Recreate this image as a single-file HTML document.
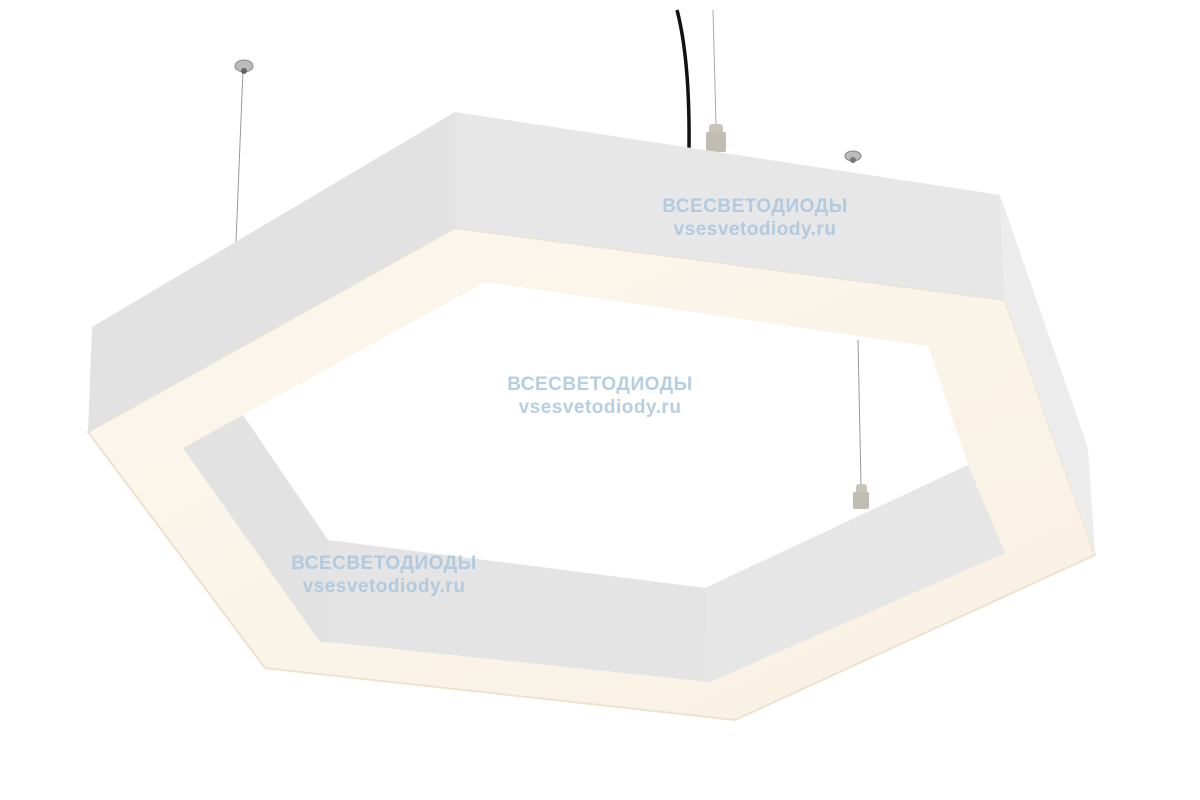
<!DOCTYPE html>
<html><head><meta charset="utf-8"><style>
html,body{margin:0;padding:0;background:#fff;}
svg{display:block}
.wm{font-family:"Liberation Sans",sans-serif;font-weight:bold;font-size:19px;fill:#a9c6de;opacity:.85;letter-spacing:0.5px}
</style></head><body>
<svg width="1200" height="800" viewBox="0 0 1200 800">
<defs>
<linearGradient id="dif" x1="0" y1="0" x2="1" y2="1">
<stop offset="0" stop-color="#fcf7ee"/><stop offset="1" stop-color="#f8f0e2"/>
</linearGradient>
</defs>
<!-- cables -->
<line x1="243" y1="70" x2="236" y2="242" stroke="#999" stroke-width="1"/>
<ellipse cx="244" cy="66" rx="9" ry="6" fill="#bbb" stroke="#888" stroke-width="1"/>
<circle cx="244" cy="71" r="3" fill="#666"/>
<path d="M677 10 Q690 60 689 148" stroke="#111" stroke-width="3.5" fill="none"/>
<line x1="713" y1="10" x2="716" y2="125" stroke="#aaa" stroke-width="1"/>
<rect x="709" y="124" width="14" height="10" rx="3" fill="#c9c3b8"/>
<rect x="706" y="132" width="20" height="20" rx="2" fill="#c2bdb3"/>
<ellipse cx="853" cy="156" rx="8" ry="5" fill="#bbb" stroke="#888" stroke-width="1"/>
<circle cx="853" cy="160" r="3" fill="#777"/>
<!-- diffuser -->
<polygon points="88,432 455,228 1005,300 1095,555 735,720 265,668" fill="url(#dif)" stroke="#ece2cf" stroke-width="2"/>
<!-- hole -->
<polygon points="485,282 928,346 968,465 705,588 328,540 243,415 183,448" fill="#fff"/>
<!-- right cable through hole -->
<line x1="858" y1="340" x2="861" y2="486" stroke="#999" stroke-width="1"/>
<!-- inner panels -->
<polygon points="183,448 243,415 328,540 328,642 320,642" fill="#e2e2e2"/>
<polygon points="328,540 705,588 710,682 328,642" fill="#e4e4e4"/>
<polygon points="705,588 968,465 1005,553 710,682" fill="#e6e6e6"/>
<rect x="856" y="484" width="11" height="10" rx="3" fill="#c9c3b8"/>
<rect x="853" y="492" width="16" height="17" rx="2" fill="#c2bdb3"/>
<!-- outer panels -->
<polygon points="455,112 1000,195 1005,300 455,228" fill="#e7e7e7"/>
<polygon points="455,112 455,228 88,432 92,327" fill="#e2e2e2"/>
<polygon points="1000,195 1088,448 1095,555 1005,300" fill="#ececec"/>
<!-- watermarks -->
<text class="wm" x="755" y="212" text-anchor="middle">ВСЕСВЕТОДИОДЫ</text>
<text class="wm" x="755" y="235" text-anchor="middle">vsesvetodiody.ru</text>
<text class="wm" x="600" y="390" text-anchor="middle">ВСЕСВЕТОДИОДЫ</text>
<text class="wm" x="600" y="413" text-anchor="middle">vsesvetodiody.ru</text>
<text class="wm" x="384" y="569" text-anchor="middle">ВСЕСВЕТОДИОДЫ</text>
<text class="wm" x="384" y="592" text-anchor="middle">vsesvetodiody.ru</text>
</svg>
</body></html>
